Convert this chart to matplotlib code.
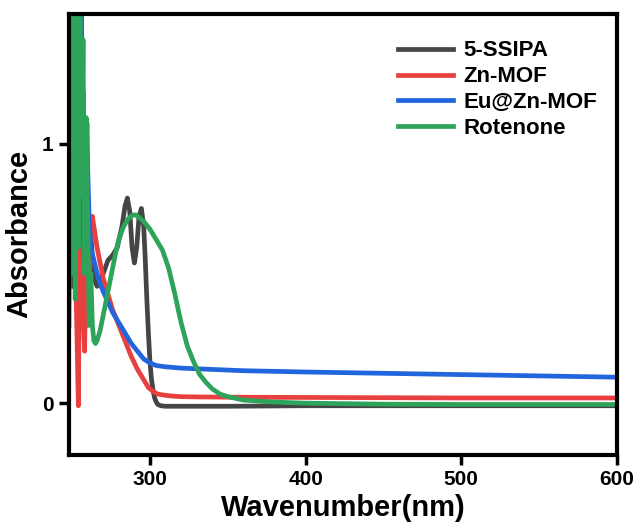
import matplotlib
matplotlib.use("Agg")
import matplotlib.pyplot as plt
import numpy as np

plt.rcParams["font.family"] = ["Liberation Sans", "DejaVu Sans"]
plt.rcParams["font.weight"] = "bold"

# 5-SSIPA
ssipa_x = np.array([250, 251, 252, 253, 254, 255, 256, 257, 258, 259, 260, 262, 264, 266, 268, 270, 273, 276,
                    279, 282, 284, 285.5, 287, 288.5, 290, 291.5, 293, 294.5, 296, 297, 298, 299, 300, 301,
                    302, 303, 304, 305, 307, 310, 320, 350, 400, 450, 500, 550, 600])
ssipa_y = np.array([0.45, 1.2, 0.6, 1.5, 0.5, 1.4, 0.7, 1.2, 0.55, 0.45, 0.62, 0.65, 0.48, 0.45, 0.47, 0.5, 0.55,
                    0.57, 0.6, 0.68, 0.76, 0.79, 0.74, 0.6, 0.54, 0.6, 0.72, 0.75, 0.68, 0.55, 0.4, 0.27, 0.16,
                    0.09, 0.05, 0.02, 0.005, -0.005, -0.01, -0.012, -0.012, -0.012, -0.01, -0.01, -0.01, -0.01,
                    -0.01])

# Zn-MOF
znmof_x = np.array([248, 248.5, 249, 249.5, 250, 251, 252, 253, 254, 255, 256, 257, 258, 259, 260, 261, 262,
                    263, 264, 266, 268, 270, 273, 276, 280, 284, 288, 292, 296, 299, 302, 305, 310, 315, 320,
                    330, 350, 400, 500, 600])
znmof_y = np.array([0.3, 0.9, 1.1, 0.7, 0.85, 1.0, 0.6, 0.3, -0.01, 0.8, 1.0, 0.35, 0.2, 0.6, 0.3, 0.45, 0.68,
                    0.72, 0.68, 0.6, 0.54, 0.48, 0.42, 0.36, 0.3, 0.24, 0.18, 0.13, 0.09, 0.06, 0.045, 0.035,
                    0.03, 0.027, 0.025, 0.024, 0.023, 0.022, 0.02, 0.02])

# Eu@Zn-MOF
euzn_x = np.array([248, 249, 250, 251, 252, 253, 254, 255, 256, 257, 258, 259, 259.5, 260, 261, 262, 264, 266,
                   268, 270, 273, 276, 280, 284, 288, 292, 296, 300, 304, 310, 320, 340, 360, 400, 450, 500,
                   550, 600])
euzn_y = np.array([1.5, 1.2, 1.55, 1.1, 1.55, 1.3, 1.55, 1.0, 1.55, 0.8, 0.5, 0.9, 1.08, 0.9, 0.7, 0.6, 0.55,
                   0.5, 0.46, 0.43, 0.39, 0.35, 0.31, 0.27, 0.23, 0.2, 0.17, 0.155, 0.145, 0.14, 0.135, 0.13,
                   0.125, 0.12, 0.115, 0.11, 0.105, 0.1])

# Rotenone
rot_x = np.array([248, 249, 250, 251, 252, 253, 254, 255, 256, 257, 258, 259, 260, 261, 262, 263, 264, 265,
                  266, 268, 270, 272, 274, 276, 278, 280, 283, 286, 289, 291, 293, 296, 300, 304, 308, 312,
                  316, 320, 324, 328, 332, 336, 340, 345, 350, 360, 380, 400, 450, 500, 600])
rot_y = np.array([1.0, 1.55, 0.5, 1.55, 0.4, 1.55, 0.6, 1.55, 0.8, 1.4, 0.5, 1.1, 0.7, 0.3, 0.5, 0.3, 0.24,
                  0.23, 0.24, 0.28, 0.34, 0.4, 0.46, 0.52, 0.58, 0.63, 0.68, 0.71, 0.725, 0.725, 0.715, 0.70,
                  0.67, 0.63, 0.59, 0.52, 0.42, 0.31, 0.22, 0.16, 0.11, 0.08, 0.055, 0.035, 0.025, 0.012, 0.004,
                  0.0, -0.004, -0.005, -0.005])

fig = plt.figure(figsize=(6.42, 5.31), dpi=100)
ax = fig.add_axes([0.1075, 0.143, 0.8535, 0.831])

lw = 3.4
ax.plot(ssipa_x, ssipa_y, color="#454545", lw=lw, label="5-SSIPA")
ax.plot(znmof_x, znmof_y, color="#e8403f", lw=lw, label="Zn-MOF")
ax.plot(euzn_x, euzn_y, color="#2266dd", lw=lw, label="Eu@Zn-MOF")
ax.plot(rot_x, rot_y, color="#2ea35a", lw=lw, label="Rotenone")

ax.set_xlim(248, 600)
ax.set_ylim(-0.2, 1.5)
ax.set_xticks([300, 400, 500, 600])
ax.set_yticks([0, 1])
ax.tick_params(direction="out", length=7, width=2.5, labelsize=15, pad=4)
for lab in ax.get_xticklabels() + ax.get_yticklabels():
    lab.set_fontweight("bold")
for sp in ax.spines.values():
    sp.set_linewidth(3)

ax.set_xlabel("Wavenumber(nm)", fontsize=21, fontweight="bold", labelpad=3)
ax.set_ylabel("Absorbance", fontsize=21, fontweight="bold", labelpad=6)

leg = ax.legend(loc="upper right", bbox_to_anchor=(1.0, 0.985), frameon=False, fontsize=16,
                handlelength=2.5, labelspacing=0.22, handletextpad=0.45)
for t in leg.get_texts():
    t.set_fontweight("bold")

fig.savefig("out.png", dpi=100)
